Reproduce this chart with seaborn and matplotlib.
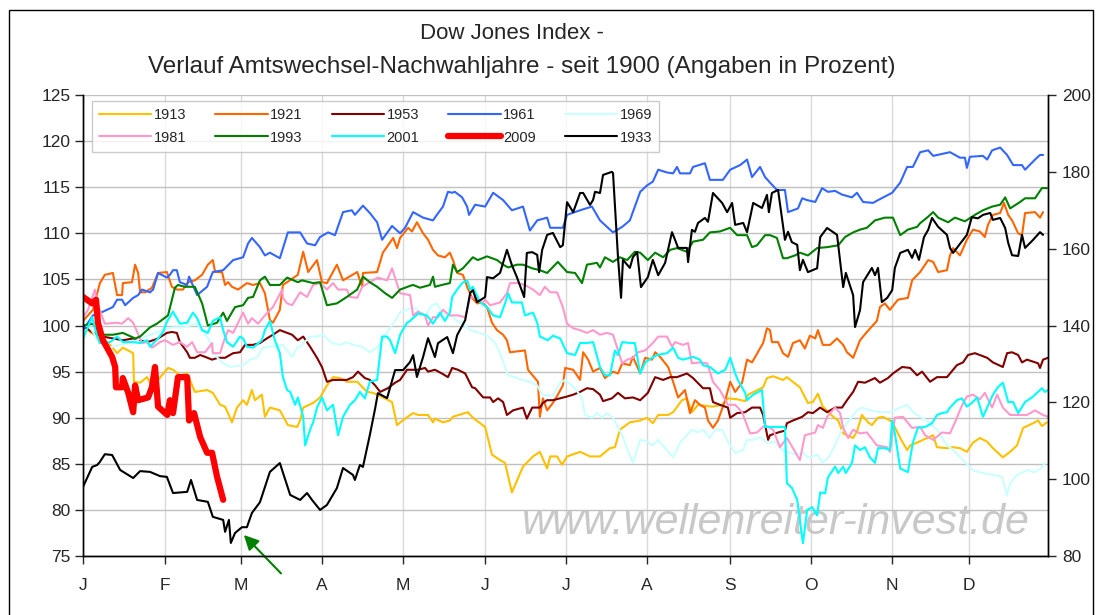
import matplotlib
matplotlib.use('Agg')
import matplotlib.pyplot as plt
import matplotlib.patches as mpatches
import seaborn as sns
import pandas as pd

# Dow Jones: Verlauf Amtswechsel-Nachwahljahre (Handelstage 0..252, Index in Prozent)
months = ['J', 'F', 'M', 'A', 'M', 'J', 'J', 'A', 'S', 'O', 'N', 'D']
month_starts = [0, 21.4, 41.3, 62.4, 83.6, 105.0, 126.1, 147.2, 168.9, 190.0, 211.2, 231.4]
year_len = 252

d1913 = [0, 1.8, 4.4, 7.1, 8.9, 10.4, 13.1, 13.3, 14.9, 16.7, 18.0, 19.6, 22.2, 23.5, 25.3, 27.2, 29.2, 32.4, 33.9, 35.8,
         37.1, 38.9, 40.2, 41.8, 42.8, 44.1, 44.9, 46.7, 47.5, 48.8, 51.4, 53.5, 55.9, 56.7, 57.5, 60.1, 61.9, 63.7, 65.3, 67.1,
         68.9, 71.6, 74.2, 75.7, 78.3, 80.7, 82.0, 84.1, 86.2, 87.5, 90.1, 91.4, 91.9, 94.0, 95.8, 96.6, 100.5, 101.8, 105.0, 106.8,
         108.9, 110.2, 112.0, 114.9, 117.5, 119.3, 121.2, 122.0, 123.8, 125.1, 126.4, 129.8, 132.4, 135.0, 137.6, 138.9, 140.2, 142.8, 145.5, 147.3,
         148.8, 150.2, 152.8, 154.1, 156.4, 157.7, 159.0, 160.6, 164.3, 166.9, 168.4, 170.8, 172.9, 173.7, 177.6, 178.6, 180.2, 182.8, 183.8, 187.2,
         189.3, 190.6, 191.9, 193.2, 195.9, 197.2, 198.5, 201.1, 202.1, 203.4, 205.0, 206.0, 207.6, 208.9, 210.7, 211.5, 213.4, 215.2, 216.0, 217.8,
         219.4, 222.0, 223.0, 225.6, 227.2, 229.0, 230.8, 232.4, 234.2, 236.1, 237.6, 240.2, 242.1, 243.9, 245.5, 248.1, 249.4, 250.4, 251.7]
v1913 = [100.0, 99.3, 98.6, 97.9, 97.0, 97.6, 97.0, 93.9, 93.8, 94.4, 93.5, 94.1, 95.4, 95.2, 94.6, 94.8, 92.8, 93.0, 92.7, 91.4,
         91.2, 89.5, 91.1, 91.9, 91.4, 93.0, 91.9, 92.5, 90.1, 91.1, 90.8, 89.2, 89.0, 89.7, 91.1, 91.6, 92.2, 93.5, 94.4, 94.3,
         93.9, 93.9, 92.8, 92.7, 92.2, 91.7, 89.2, 89.9, 90.5, 90.3, 90.3, 89.5, 89.9, 89.5, 89.7, 90.1, 90.6, 90.0, 89.0, 86.0,
         85.4, 85.1, 81.9, 84.7, 85.8, 86.3, 84.5, 85.8, 85.8, 84.9, 85.8, 86.3, 85.8, 85.8, 86.7, 86.8, 88.7, 89.5, 89.7, 90.0,
         89.4, 90.3, 90.3, 90.6, 91.9, 92.1, 90.6, 91.4, 91.2, 91.4, 92.1, 92.0, 91.8, 92.5, 93.3, 94.3, 94.5, 94.1, 94.4, 93.3,
         91.6, 91.7, 92.6, 91.2, 90.1, 89.7, 88.3, 87.8, 88.5, 90.3, 89.5, 89.2, 90.0, 90.1, 89.7, 89.4, 87.8, 86.5, 87.0, 87.3,
         87.6, 88.1, 86.8, 86.7, 86.8, 86.7, 86.3, 87.3, 87.8, 87.4, 86.7, 85.7, 86.3, 87.0, 88.9, 89.4, 89.7, 89.1, 89.5]

d1921 = [0, 2.6, 4.4, 5.7, 7.8, 8.9, 10.2, 10.4, 12.8, 13.6, 14.4, 14.9, 16.2, 18.0, 19.6, 21.9, 23.2, 24.5, 26.1, 27.4,
         29.2, 31.1, 32.6, 33.9, 34.5, 36.3, 37.1, 37.9, 38.9, 40.5, 42.8, 44.4, 46.2, 47.5, 48.8, 49.6, 51.4, 52.2, 53.3, 56.1,
         57.5, 58.8, 61.1, 62.4, 63.7, 66.3, 67.9, 71.6, 72.9, 73.1, 76.8, 78.3, 81.0, 82.0, 82.8, 84.9, 85.9, 87.2, 88.8, 90.1,
         91.4, 92.7, 94.5, 95.8, 96.6, 97.7, 99.2, 100.3, 101.6, 102.9, 104.2, 105.5, 106.8, 108.1, 109.7, 110.7, 111.5, 115.4, 116.2, 118.8,
         119.3, 120.1, 121.2, 122.7, 124.0, 125.3, 125.9, 128.0, 129.8, 130.6, 131.9, 133.2, 135.0, 136.3, 138.4, 139.7, 140.8, 142.8, 143.6, 145.5,
         146.8, 148.6, 149.4, 150.7, 152.8, 154.1, 155.4, 157.2, 158.5, 159.8, 161.1, 162.4, 163.2, 164.5, 165.8, 167.7, 169.0, 170.3, 172.1, 173.4,
         174.7, 177.6, 178.6, 179.4, 179.9, 181.5, 182.8, 184.1, 185.4, 187.2, 188.5, 189.8, 191.2, 191.9, 193.2, 195.1, 196.9, 198.5, 199.5, 201.1,
         202.9, 204.7, 207.3, 208.1, 209.4, 210.7, 212.8, 215.4, 216.5, 218.6, 220.7, 222.0, 223.3, 225.6, 226.4, 227.2, 229.0, 230.8, 232.4, 234.2,
         235.5, 236.3, 237.6, 239.5, 240.5, 241.6, 242.6, 244.2, 245.2, 246.0, 248.6, 249.9, 250.7]
v1921 = [100.5, 101.7, 104.6, 105.5, 105.7, 103.3, 103.3, 104.6, 104.7, 106.6, 105.7, 103.6, 103.6, 104.1, 105.7, 105.8, 104.2, 103.9, 103.9, 104.7,
         104.9, 105.5, 106.6, 107.1, 105.8, 105.8, 104.4, 104.7, 104.2, 103.9, 104.6, 104.4, 104.6, 103.5, 100.6, 100.3, 101.7, 104.4, 104.7, 105.5,
         108.0, 105.8, 107.1, 104.7, 104.6, 106.6, 104.9, 105.8, 104.2, 105.7, 105.8, 107.9, 109.5, 108.4, 109.5, 110.6, 110.2, 111.2, 110.0, 109.3,
         108.2, 107.6, 107.4, 107.9, 107.1, 105.7, 105.5, 104.2, 103.0, 102.4, 102.5, 102.0, 100.3, 99.5, 99.0, 98.4, 97.1, 97.3, 95.2, 93.9,
         90.1, 92.1, 90.8, 91.6, 92.5, 93.5, 95.4, 95.2, 94.1, 97.1, 96.3, 95.0, 95.4, 94.3, 95.0, 94.8, 95.9, 95.7, 96.6, 94.8,
         96.5, 96.3, 97.1, 96.6, 95.5, 93.9, 92.2, 93.0, 90.5, 91.9, 91.4, 91.1, 89.7, 88.9, 89.7, 91.9, 93.9, 92.8, 93.8, 96.3,
         96.0, 98.1, 99.7, 99.5, 98.2, 98.2, 97.0, 96.6, 98.1, 98.4, 97.5, 98.9, 98.6, 99.5, 97.9, 97.9, 98.6, 97.9, 97.1, 96.5,
         98.4, 99.3, 100.5, 102.0, 102.4, 101.7, 102.8, 103.0, 104.9, 105.8, 107.1, 106.9, 105.8, 106.0, 107.6, 108.4, 107.6, 109.3, 110.4, 110.2,
         109.6, 110.9, 112.0, 112.2, 113.3, 112.0, 111.4, 110.0, 109.8, 112.2, 112.3, 111.7, 112.3]

d1953 = [0, 2.6, 5.2, 7.8, 10.4, 13.1, 14.9, 16.7, 18.3, 19.6, 21.9, 23.2, 24.5, 25.3, 27.2, 27.9, 29.2, 30.6, 31.9, 33.7,
         35.3, 37.1, 39.2, 41.0, 42.3, 44.4, 46.2, 48.0, 49.6, 51.4, 52.7, 54.6, 56.1, 57.5, 59.3, 61.1, 62.4, 63.7, 65.3, 67.1,
         68.9, 70.5, 71.8, 73.6, 74.9, 76.3, 77.6, 79.6, 81.5, 82.8, 84.6, 87.5, 89.3, 90.1, 91.9, 93.7, 95.3, 96.4, 97.9, 99.8,
         101.6, 102.4, 104.5, 106.3, 107.1, 108.4, 109.7, 110.7, 112.3, 114.9, 115.9, 117.3, 119.3, 120.1, 121.2, 122.7, 124.6, 126.4, 128.0, 129.8,
         131.6, 133.2, 135.0, 135.8, 138.1, 139.7, 141.5, 143.6, 145.5, 147.5, 149.4, 151.5, 153.3, 155.1, 157.7, 159.3, 161.9, 163.7, 164.5, 166.3,
         168.4, 169.0, 170.8, 172.9, 174.7, 176.8, 177.6, 178.9, 179.4, 181.5, 183.3, 183.8, 185.4, 187.8, 189.3, 190.6, 192.5, 194.3, 196.4, 198.2,
         199.5, 201.1, 202.4, 204.2, 206.8, 208.1, 210.2, 211.5, 213.9, 216.0, 217.8, 219.1, 221.2, 223.0, 225.6, 228.2, 229.8, 231.1, 232.9, 236.1,
         237.6, 240.2, 241.3, 242.6, 244.2, 245.2, 246.5, 249.4, 249.9, 250.7, 252.0]
v1953 = [100.0, 99.2, 98.8, 98.6, 98.4, 98.6, 98.4, 98.2, 98.4, 98.6, 99.2, 99.3, 99.2, 98.2, 97.1, 96.5, 96.5, 96.8, 96.6, 96.3,
         96.5, 96.5, 97.0, 97.1, 97.9, 97.9, 98.1, 98.6, 99.0, 99.5, 99.3, 99.0, 98.4, 98.8, 97.7, 96.5, 95.5, 93.9, 94.1, 94.1,
         94.1, 94.4, 95.0, 94.3, 94.1, 93.5, 92.8, 93.2, 93.8, 94.1, 95.2, 95.2, 95.4, 95.0, 95.2, 94.8, 94.4, 95.4, 95.2, 94.8,
         93.3, 93.2, 92.2, 92.2, 91.7, 92.1, 91.7, 90.3, 90.8, 91.1, 89.9, 91.1, 91.1, 91.6, 91.9, 91.9, 92.1, 92.3, 92.5, 92.8,
         93.2, 93.1, 92.5, 91.8, 92.1, 92.7, 92.1, 92.2, 91.9, 92.7, 94.4, 94.1, 94.4, 94.4, 94.8, 94.3, 93.2, 93.2, 91.7, 91.4,
         91.1, 90.0, 90.5, 90.6, 91.1, 91.1, 90.3, 87.6, 88.1, 88.4, 88.6, 89.4, 89.7, 90.1, 90.6, 90.5, 91.1, 90.6, 91.1, 91.1,
         91.9, 92.8, 93.9, 93.8, 94.3, 93.8, 94.3, 94.8, 95.5, 95.4, 94.6, 95.0, 93.9, 94.4, 94.4, 95.7, 96.0, 96.8, 97.0, 96.5,
         96.0, 95.5, 97.0, 97.1, 96.8, 96.0, 96.3, 95.9, 95.4, 96.3, 96.5]

d1961 = [0, 2.6, 5.2, 7.8, 8.9, 10.2, 11.0, 13.1, 14.4, 15.4, 17.5, 18.3, 19.6, 21.9, 22.7, 23.5, 24.5, 25.3, 27.2, 27.7,
         29.8, 32.4, 33.9, 36.6, 39.2, 41.8, 43.1, 44.1, 46.2, 47.5, 48.8, 51.4, 53.5, 56.7, 58.5, 60.6, 61.9, 64.0, 65.8, 67.9,
         70.2, 71.0, 73.1, 74.9, 76.8, 78.1, 80.7, 82.8, 84.1, 86.2, 88.8, 91.4, 92.4, 94.0, 95.3, 96.4, 97.1, 99.0, 100.3, 100.8,
         102.4, 105.0, 107.1, 109.7, 112.0, 114.9, 116.7, 118.6, 121.2, 122.0, 125.3, 126.4, 129.8, 132.9, 135.0, 138.4, 140.8, 142.8, 145.5, 147.3,
         148.8, 150.2, 152.5, 154.1, 155.1, 155.9, 158.5, 159.3, 162.4, 163.7, 167.1, 169.0, 171.6, 173.4, 174.7, 176.8, 178.1, 179.4, 181.2, 183.3,
         184.1, 186.7, 187.8, 189.1, 191.2, 193.0, 194.5, 196.4, 198.2, 200.8, 202.1, 203.7, 206.3, 207.6, 211.3, 213.4, 215.2, 216.7, 218.6, 220.7,
         222.0, 226.4, 229.0, 230.3, 230.8, 231.6, 235.0, 236.1, 237.4, 239.5, 241.3, 242.9, 245.2, 246.0, 248.6, 249.9, 250.7]
v1961 = [99.5, 101.1, 101.5, 102.0, 102.8, 102.8, 102.2, 103.0, 103.3, 103.9, 103.6, 103.9, 105.7, 105.2, 105.5, 106.0, 106.0, 104.7, 104.4, 105.3,
         103.3, 104.2, 105.8, 106.0, 107.1, 107.4, 108.9, 109.5, 108.5, 107.6, 107.9, 107.3, 110.1, 110.1, 108.9, 108.7, 109.6, 110.1, 109.8, 112.3,
         112.5, 112.0, 113.0, 112.2, 111.2, 109.3, 110.8, 110.0, 110.6, 112.3, 111.7, 111.4, 112.0, 112.9, 114.5, 114.4, 114.5, 113.9, 112.9, 112.0,
         113.1, 112.9, 114.4, 113.6, 112.5, 112.9, 110.3, 111.4, 111.7, 110.6, 110.6, 112.0, 112.5, 112.9, 111.4, 110.1, 110.7, 111.4, 114.5, 115.2,
         115.6, 116.9, 116.6, 116.5, 117.2, 116.5, 116.5, 117.2, 117.6, 115.8, 115.8, 116.9, 117.4, 118.0, 116.1, 117.2, 116.1, 115.5, 114.7, 114.7,
         112.3, 112.7, 113.8, 113.6, 113.4, 114.9, 114.5, 114.6, 114.2, 113.9, 114.4, 113.4, 113.3, 113.6, 114.4, 115.5, 117.2, 117.2, 118.8, 119.0,
         118.4, 118.8, 118.2, 118.2, 117.1, 118.3, 118.4, 118.0, 119.0, 119.3, 118.5, 117.4, 117.4, 116.9, 118.0, 118.5, 118.5]

d1969 = [0, 1.8, 4.4, 6.3, 7.8, 14.1, 17.5, 20.9, 23.5, 26.1, 29.8, 32.4, 33.2, 33.9, 36.6, 38.4, 41.8, 43.6, 45.4, 47.0,
         48.8, 52.2, 54.6, 55.9, 56.7, 59.3, 61.1, 62.7, 65.0, 67.1, 68.9, 70.5, 72.9, 74.9, 76.8, 78.3, 80.7, 82.8, 86.2, 89.3,
         91.1, 92.4, 93.7, 95.8, 97.7, 99.2, 101.1, 103.7, 105.8, 107.6, 108.9, 111.0, 112.8, 114.6, 116.7, 118.6, 119.9, 121.4, 122.7, 124.6,
         125.9, 127.7, 129.0, 130.3, 131.1, 132.9, 134.2, 135.5, 136.8, 138.4, 140.8, 142.3, 143.6, 145.5, 147.3, 148.8, 150.2, 152.0, 154.1, 155.9,
         157.7, 159.0, 160.6, 161.9, 163.7, 165.0, 166.9, 168.4, 170.3, 172.4, 173.4, 175.0, 176.8, 178.6, 180.7, 182.5, 183.8, 186.5, 188.0, 189.3,
         191.9, 193.0, 194.5, 196.4, 197.7, 199.5, 202.1, 203.4, 205.5, 208.1, 210.7, 213.4, 215.2, 216.7, 218.6, 220.4, 223.0, 225.6, 227.2, 229.8,
         232.4, 235.0, 237.6, 240.0, 241.3, 242.1, 243.9, 246.5, 248.6, 250.4, 251.2]
v1969 = [100.2, 99.8, 98.1, 97.6, 97.7, 98.4, 99.0, 99.5, 99.8, 99.8, 100.2, 98.8, 98.1, 97.0, 95.9, 95.5, 95.7, 96.3, 96.5, 97.6,
         97.7, 97.9, 96.6, 97.6, 97.7, 98.8, 98.8, 99.0, 98.1, 97.9, 98.2, 97.9, 97.7, 97.1, 97.6, 98.6, 100.0, 101.4, 102.0, 101.1,
         102.2, 102.4, 101.4, 101.1, 100.5, 100.2, 99.5, 99.2, 98.8, 98.1, 97.0, 94.6, 94.4, 94.1, 93.9, 93.5, 92.5, 92.4, 92.4, 93.8,
         94.1, 93.5, 92.9, 92.1, 90.3, 90.0, 90.5, 90.0, 90.5, 90.0, 88.1, 86.4, 85.1, 87.6, 87.4, 87.0, 87.6, 86.7, 85.7, 87.3,
         88.1, 88.7, 88.4, 88.7, 87.8, 88.7, 88.7, 87.4, 86.2, 86.5, 87.6, 87.6, 87.9, 87.3, 87.4, 86.5, 86.3, 86.0, 86.2, 85.7,
         86.0, 85.1, 85.6, 87.0, 88.3, 89.4, 90.8, 91.1, 90.8, 90.6, 90.6, 91.1, 91.4, 90.6, 90.1, 89.7, 88.7, 87.0, 86.5, 85.4,
         84.3, 84.0, 83.8, 83.6, 81.6, 82.9, 83.8, 84.3, 84.1, 84.6, 85.1]

d1981 = [0, 1.3, 3.1, 3.7, 5.7, 8.9, 10.2, 11.8, 13.1, 15.4, 16.7, 18.0, 20.1, 21.4, 23.5, 25.3, 27.2, 28.5, 29.8, 31.9,
         33.7, 33.9, 35.8, 36.6, 37.9, 39.2, 40.5, 41.8, 43.1, 44.1, 45.7, 47.5, 49.6, 52.0, 52.2, 53.3, 54.6, 56.7, 58.5, 60.1,
         61.9, 63.7, 65.3, 66.6, 68.9, 69.7, 71.6, 72.9, 74.9, 77.0, 79.4, 80.7, 82.8, 85.4, 86.2, 87.5, 89.3, 90.1, 91.4, 92.7,
         94.0, 95.8, 97.9, 99.8, 101.1, 102.4, 104.2, 105.0, 106.3, 108.9, 110.7, 111.5, 113.6, 115.4, 117.5, 119.3, 120.6, 122.0, 123.8, 125.3,
         126.4, 128.0, 129.8, 131.6, 133.2, 135.0, 136.8, 138.4, 139.4, 140.8, 142.1, 143.6, 144.9, 146.8, 148.8, 150.2, 152.5, 153.8, 154.6, 156.7,
         158.0, 159.0, 161.1, 163.0, 164.5, 166.3, 168.4, 170.3, 172.1, 174.2, 176.0, 178.1, 180.2, 182.0, 183.8, 185.4, 187.2, 188.5, 191.2, 191.9,
         193.2, 194.3, 196.4, 197.7, 198.5, 199.8, 201.1, 202.9, 204.7, 207.3, 210.0, 210.7, 212.0, 214.1, 216.5, 218.6, 219.9, 222.0, 224.3, 226.4,
         227.7, 229.5, 230.8, 232.4, 234.2, 235.5, 237.4, 238.7, 240.2, 242.1, 244.2, 246.5, 248.6, 250.7, 252.0]
v1981 = [100.9, 101.7, 103.9, 102.4, 100.2, 100.3, 100.2, 100.8, 100.3, 98.1, 98.2, 97.6, 98.2, 98.4, 97.9, 98.2, 97.7, 98.2, 97.1, 97.1,
         98.1, 97.0, 97.0, 98.1, 99.5, 99.2, 100.3, 101.4, 100.2, 100.8, 100.2, 101.1, 102.0, 103.9, 103.0, 102.4, 102.2, 103.6, 103.1, 104.4,
         104.6, 103.9, 104.6, 103.9, 103.9, 103.1, 103.0, 104.2, 104.7, 105.2, 104.9, 106.2, 103.5, 103.3, 101.1, 101.5, 101.1, 100.0, 100.9, 100.9,
         101.7, 101.1, 101.1, 100.9, 103.1, 103.0, 102.4, 102.8, 102.2, 102.5, 103.5, 104.6, 104.6, 104.4, 103.9, 103.3, 104.2, 103.6, 103.6, 102.0,
         100.2, 99.7, 99.5, 99.2, 99.5, 99.0, 99.2, 99.0, 97.7, 95.9, 96.3, 96.5, 97.1, 97.3, 98.1, 98.8, 98.8, 97.7, 98.2, 97.9,
         98.1, 95.9, 96.0, 95.9, 93.9, 93.0, 91.4, 91.4, 90.6, 88.3, 88.4, 89.2, 88.7, 86.8, 87.8, 86.7, 85.4, 88.1, 88.4, 89.2,
         88.9, 90.1, 91.1, 90.5, 88.9, 87.8, 88.7, 88.3, 88.4, 87.0, 86.8, 86.3, 90.0, 90.1, 88.9, 89.0, 88.1, 87.6, 88.4, 88.3,
         89.5, 91.3, 92.3, 92.5, 92.0, 92.7, 91.1, 92.5, 91.1, 90.3, 90.3, 90.3, 90.8, 90.3, 90.1]

d1993 = [0, 2.6, 4.4, 7.8, 10.4, 13.6, 14.9, 17.5, 19.3, 22.2, 24.0, 24.8, 26.6, 29.2, 31.1, 32.6, 35.0, 36.6, 37.6, 39.7,
         41.8, 43.1, 44.4, 46.2, 47.5, 48.8, 51.4, 53.3, 56.1, 57.2, 60.1, 61.9, 63.7, 66.3, 68.9, 71.6, 73.1, 74.9, 76.8, 78.9,
         80.7, 82.8, 85.4, 86.2, 88.0, 90.6, 91.4, 91.9, 93.7, 95.8, 96.6, 97.7, 99.2, 100.5, 101.8, 103.1, 105.5, 108.1, 109.7, 111.0,
         113.3, 114.9, 117.3, 119.3, 121.2, 123.3, 124.0, 126.4, 128.5, 130.3, 131.6, 134.2, 135.0, 136.3, 138.4, 140.2, 142.1, 144.1, 145.5, 147.5,
         149.4, 151.5, 153.3, 155.1, 157.7, 159.3, 161.9, 163.7, 166.3, 169.0, 170.8, 173.4, 174.7, 176.0, 178.1, 179.4, 181.2, 182.8, 183.8, 185.9,
         187.2, 189.3, 191.7, 194.3, 197.2, 199.0, 201.1, 202.9, 204.7, 206.8, 209.4, 211.5, 213.4, 215.4, 217.8, 218.6, 220.4, 222.0, 223.3, 225.9,
         227.7, 230.3, 232.9, 235.0, 237.4, 239.5, 240.8, 242.1, 244.7, 246.0, 248.6, 250.4, 251.7]
v1993 = [100.0, 100.2, 99.0, 99.0, 99.2, 98.6, 98.8, 99.8, 100.2, 101.1, 104.1, 104.4, 104.2, 104.2, 102.4, 100.0, 100.3, 101.4, 100.5, 102.0,
         102.2, 103.0, 103.1, 104.9, 105.3, 104.4, 104.4, 105.2, 104.7, 104.9, 104.6, 104.7, 102.2, 102.4, 103.1, 103.9, 105.3, 104.7, 104.2, 103.5,
         103.0, 103.9, 104.3, 104.4, 104.1, 104.4, 105.3, 104.2, 104.4, 104.6, 106.6, 105.8, 106.2, 106.8, 107.4, 107.1, 107.5, 107.1, 106.6, 106.3,
         106.6, 106.6, 106.2, 106.0, 105.7, 106.6, 106.9, 105.8, 105.7, 104.6, 106.6, 106.8, 106.3, 107.4, 106.9, 107.4, 107.1, 108.0, 107.9, 107.1,
         107.9, 107.4, 108.2, 108.4, 108.0, 109.1, 109.3, 110.1, 110.2, 110.6, 109.8, 109.8, 108.5, 108.7, 109.8, 109.8, 109.5, 107.3, 107.3, 107.6,
         107.9, 107.6, 108.4, 108.5, 108.7, 109.6, 110.1, 110.4, 110.6, 111.4, 111.7, 111.7, 109.8, 110.4, 110.7, 111.1, 111.7, 112.3, 111.7, 111.2,
         111.7, 111.3, 112.0, 112.5, 112.9, 113.1, 113.9, 112.7, 113.4, 113.8, 113.8, 114.9, 114.9]

d2001 = [0, 2.4, 3.7, 4.4, 7.1, 8.9, 10.4, 13.1, 14.9, 16.7, 17.5, 19.6, 20.9, 21.9, 23.5, 25.3, 27.2, 28.7, 29.8, 31.1,
         32.6, 33.9, 35.8, 36.6, 37.6, 39.2, 41.0, 41.8, 42.8, 44.4, 46.7, 47.5, 48.8, 50.1, 51.4, 52.2, 53.3, 54.1, 55.4, 56.1,
         57.5, 58.0, 59.3, 60.1, 61.1, 62.4, 63.7, 65.3, 66.6, 67.9, 69.7, 71.0, 72.3, 73.6, 74.9, 76.8, 78.1, 79.4, 80.2, 81.5,
         82.8, 84.6, 85.4, 87.5, 89.8, 91.4, 93.2, 94.5, 95.8, 96.4, 97.7, 99.0, 100.3, 101.1, 101.8, 103.7, 105.5, 107.1, 108.9, 110.2,
         111.0, 112.0, 114.6, 115.4, 117.5, 118.6, 119.3, 121.4, 122.7, 124.6, 126.4, 128.5, 129.8, 131.6, 133.2, 135.0, 136.3, 137.6, 138.9, 139.7,
         140.8, 142.8, 144.1, 145.5, 146.8, 148.6, 149.9, 152.5, 154.1, 155.4, 156.7, 158.5, 159.3, 161.1, 161.9, 163.7, 165.8, 167.7, 169.0, 170.3,
         171.0, 172.9, 173.4, 175.0, 177.3, 178.1, 183.3, 183.8, 185.1, 186.5, 188.0, 189.1, 190.4, 191.7, 192.5, 193.8, 194.5, 196.4, 197.2, 198.5,
         199.2, 200.8, 201.6, 202.9, 204.2, 205.5, 206.8, 207.6, 209.4, 210.7, 211.3, 212.0, 213.4, 215.4, 216.7, 218.0, 219.9, 221.7, 223.0, 224.3,
         225.6, 226.4, 228.2, 229.5, 230.8, 232.1, 233.5, 235.0, 236.1, 237.6, 238.9, 240.2, 241.6, 242.9, 244.2, 246.0, 247.8, 249.4, 250.4, 251.2, 252.0]
v2001 = [98.6, 100.9, 98.8, 98.1, 98.2, 98.8, 98.2, 98.2, 98.1, 98.4, 97.7, 98.6, 99.3, 100.4, 101.5, 100.2, 100.3, 101.4, 100.8, 99.5,
         99.2, 100.5, 100.9, 99.5, 98.2, 97.7, 98.8, 98.6, 97.7, 97.6, 98.4, 99.5, 100.5, 98.4, 97.0, 94.4, 93.0, 92.8, 91.4, 92.2,
         90.1, 87.0, 88.7, 89.5, 91.1, 92.2, 90.8, 91.4, 88.1, 90.1, 91.4, 91.9, 92.8, 92.1, 93.9, 94.1, 98.8, 98.8, 98.4, 97.0,
         99.0, 100.3, 100.5, 101.3, 101.1, 100.2, 101.4, 100.5, 101.4, 103.1, 103.9, 104.6, 104.9, 103.9, 104.2, 102.5, 102.0, 101.1, 100.9, 102.4,
         103.5, 102.5, 102.5, 101.1, 101.4, 100.3, 98.8, 98.4, 98.9, 98.6, 97.0, 96.8, 98.1, 98.1, 98.2, 95.5, 94.6, 94.6, 97.3, 96.8,
         98.2, 98.1, 98.1, 94.8, 96.0, 96.5, 96.8, 97.0, 97.6, 96.5, 96.3, 96.5, 96.6, 96.3, 95.7, 95.5, 94.8, 95.2, 96.5, 94.8,
         94.1, 92.7, 91.9, 92.5, 93.0, 89.0, 89.0, 82.9, 82.4, 81.1, 76.4, 80.0, 80.3, 79.4, 81.9, 81.8, 83.5, 84.7, 84.0, 84.7,
         84.0, 85.1, 87.0, 86.5, 86.8, 85.7, 85.1, 86.7, 86.7, 86.5, 89.7, 88.3, 84.5, 84.1, 87.3, 88.9, 89.0, 89.4, 90.3, 90.5,
         90.6, 91.1, 91.9, 92.1, 91.2, 91.6, 92.2, 90.1, 91.1, 92.5, 93.3, 93.8, 91.7, 91.7, 90.5, 91.7, 92.2, 92.8, 93.2, 92.8, 93.0]

d2009 = [0, 2.4, 3.4, 3.9, 5.2, 7.6, 8.4, 8.6, 10.2, 10.4, 11.8, 13.1, 13.6, 14.4, 17.0, 18.0, 18.8, 19.6, 22.0, 22.7,
         23.5, 24.8, 27.2, 27.7, 29.0, 30.6, 32.4, 33.7, 35.0, 36.6]
v2009 = [103.1, 102.4, 102.8, 100.3, 98.4, 96.6, 95.5, 93.3, 93.3, 94.3, 92.7, 90.6, 93.5, 91.9, 92.2, 93.3, 95.5, 91.2, 90.3, 91.9,
         90.5, 94.4, 94.4, 89.7, 90.5, 87.9, 86.2, 86.2, 83.6, 81.1]

# 1933 laeuft auf der rechten Achse
d1933 = [0, 2.4, 3.7, 4.4, 5.7, 7.6, 9.7, 13.1, 14.9, 17.5, 20.1, 21.9, 23.5, 27.2, 28.2, 29.8, 32.6, 33.9, 36.6, 37.1,
         38.1, 38.6, 39.7, 41.5, 42.8, 44.1, 46.2, 48.8, 51.4, 54.1, 56.7, 58.5, 59.8, 61.9, 63.7, 66.3, 67.9, 70.5, 71.0, 72.3,
         73.1, 74.9, 76.3, 77.0, 79.4, 81.5, 83.6, 85.4, 86.2, 87.2, 88.8, 90.1, 91.9, 92.7, 95.1, 96.6, 97.7, 99.8, 101.1, 101.8,
         102.9, 105.0, 105.5, 107.1, 108.9, 110.7, 112.0, 113.3, 115.2, 115.9, 117.3, 118.6, 119.1, 119.9, 121.2, 122.7, 124.6, 125.3, 126.4, 128.0,
         129.8, 130.6, 132.4, 133.2, 133.7, 135.0, 135.8, 138.1, 138.4, 139.7, 140.5, 141.0, 142.8, 143.6, 144.7, 145.7, 147.5, 148.8, 150.2, 152.0,
         153.8, 154.6, 155.4, 157.7, 158.0, 159.0, 159.8, 160.6, 162.4, 163.2, 164.5, 166.9, 168.2, 169.5, 170.3, 172.4, 173.4, 175.0, 177.3, 178.6,
         179.1, 179.9, 181.5, 183.3, 184.1, 185.1, 186.5, 187.2, 188.0, 189.3, 191.7, 192.5, 194.3, 196.9, 198.5, 199.2, 201.1, 201.6, 202.9, 203.7,
         206.0, 206.8, 207.6, 208.6, 210.0, 211.3, 212.0, 213.4, 215.4, 216.5, 217.3, 218.3, 219.6, 220.7, 221.7, 223.3, 225.6, 226.4, 227.2, 230.8,
         232.1, 233.7, 235.0, 236.9, 237.6, 239.5, 240.8, 241.6, 242.6, 244.2, 245.2, 246.0, 248.1, 249.9, 250.7]
v1933 = [98.0, 103.2, 103.7, 104.5, 106.5, 106.3, 102.4, 100.3, 102.1, 101.9, 100.8, 100.6, 96.4, 96.7, 99.8, 94.6, 94.1, 90.2, 89.4, 86.3,
         89.4, 83.4, 86.0, 87.5, 87.5, 91.2, 94.0, 101.9, 104.2, 95.9, 94.6, 96.4, 94.6, 92.0, 93.3, 97.7, 102.9, 101.1, 99.8, 103.7,
         103.2, 111.5, 118.5, 122.4, 121.1, 128.4, 128.4, 130.5, 132.3, 126.6, 131.8, 136.7, 131.8, 135.4, 137.0, 132.8, 137.5, 141.4, 148.5, 149.2,
         146.1, 147.4, 152.6, 152.3, 153.7, 159.7, 155.7, 152.6, 147.4, 158.9, 159.1, 158.4, 153.9, 159.7, 163.6, 164.1, 160.4, 160.9, 172.1, 169.5,
         174.5, 174.5, 171.4, 172.7, 174.8, 174.5, 179.2, 180.0, 179.7, 157.8, 147.2, 157.1, 155.0, 157.8, 159.1, 150.0, 152.6, 157.1, 153.1, 156.3,
         164.3, 162.3, 160.2, 160.2, 156.5, 164.9, 164.4, 166.7, 168.0, 167.0, 174.5, 171.9, 169.5, 171.9, 166.2, 166.7, 164.3, 171.9, 170.6, 174.0,
         169.5, 174.5, 175.3, 162.3, 164.4, 161.7, 161.0, 154.4, 157.1, 153.9, 154.9, 163.0, 165.4, 163.6, 150.0, 153.7, 147.9, 139.6, 144.0, 151.3,
         155.0, 153.1, 155.0, 146.1, 147.2, 149.2, 155.0, 158.9, 159.7, 157.6, 159.7, 157.1, 163.0, 164.9, 168.0, 165.7, 163.6, 160.2, 158.9, 163.6,
         168.2, 167.9, 168.8, 169.3, 167.5, 168.0, 165.4, 161.5, 158.3, 158.1, 163.6, 160.2, 162.3, 164.3, 163.6]

years_left = ['1913', '1921', '1953', '1961', '1969', '1981', '1993', '2001', '2009']
colors = {'1913': '#FFC000', '1921': '#FF6600', '1953': '#800000', '1961': '#3366FF', '1969': '#CCFFFF',
          '1981': '#FF99CC', '1993': '#008000', '2001': '#00FFFF', '2009': '#FF0000', '1933': '#000000'}
series = {'1913': (d1913, v1913), '1921': (d1921, v1921), '1953': (d1953, v1953), '1961': (d1961, v1961),
          '1969': (d1969, v1969), '1981': (d1981, v1981), '1993': (d1993, v1993), '2001': (d2001, v2001),
          '2009': (d2009, v2009)}

sns.set_style('white')
plt.rcParams['font.family'] = ['Liberation Sans', 'DejaVu Sans']

fig = plt.figure(figsize=(10.98, 6.15), dpi=100)
ax = fig.add_axes([0.0756, 0.0959, 0.8789, 0.7496])
ax2 = ax.twinx()

for yr in years_left:
    d, v = series[yr]
    df = pd.DataFrame({'tag': d, 'wert': v})
    sns.lineplot(data=df, x='tag', y='wert', ax=ax, color=colors[yr], estimator=None, sort=False,
                 lw=4.5 if yr == '2009' else 1.5, label=yr, legend=False, zorder=5 if yr == '2009' else 2)

df33 = pd.DataFrame({'tag': d1933, 'wert': v1933})
sns.lineplot(data=df33, x='tag', y='wert', ax=ax2, color=colors['1933'], estimator=None, sort=False,
             lw=1.5, label='1933', legend=False)

# Achsen
ax.set_xlim(0, year_len)
ax.set_ylim(75, 125)
ax.set_yticks(range(75, 126, 5))
ax2.set_ylim(80, 200)
ax2.set_yticks(range(80, 201, 20))
ax.set_xticks(month_starts)
ax.set_xticklabels(months)
ax.set_xlabel('')
ax.set_ylabel('')
ax2.set_ylabel('')

ax.yaxis.grid(True, color='#c0c0c0', lw=1)
ax.xaxis.grid(True, color='#d9d9d9', lw=1)
ax.set_axisbelow(True)

for a in (ax, ax2):
    a.spines['top'].set_visible(False)
    for s in ('left', 'right', 'bottom'):
        a.spines[s].set_color('#000000')
        a.spines[s].set_linewidth(1)
ax.tick_params(axis='y', direction='out', length=6, width=1, labelsize=12.5, pad=3, left=True)
ax.tick_params(axis='x', direction='out', length=6, width=1, labelsize=12.5, pad=10, bottom=True)
ax2.tick_params(axis='y', direction='out', length=6, width=1, labelsize=12.5, pad=4, right=True)

# Legende (Zeile 1: 1913..1969, Zeile 2: 1981..1933)
order = ['1913', '1981', '1921', '1993', '1953', '2001', '1961', '2009', '1969', '1933']
handles = {l.get_label(): l for l in ax.get_lines() + ax2.get_lines()}
leg = ax2.legend([handles[k] for k in order], order, ncol=5, loc='upper left',
                 bbox_to_anchor=(0.009, 0.988), frameon=True, fancybox=False, fontsize=10.5,
                 handlelength=3.6, handletextpad=0.15, columnspacing=2.0, borderpad=0.5,
                 labelspacing=0.6, borderaxespad=0)
leg.get_frame().set_edgecolor('#c0c0c0')
leg.get_frame().set_linewidth(1)

# Wasserzeichen
ax.text(0.718, 0.072, 'www.wellenreiter-invest.de', transform=ax.transAxes, ha='center', va='center',
        fontsize=31, style='italic', color='#c8c8c8', zorder=1)

# Pfeil auf das Tief von 1933
ax.annotate('', xy=(41.5, 77.5), xytext=(52.2, 72.9),
            arrowprops=dict(arrowstyle='-|>', color='#008000', lw=1.5, mutation_scale=22),
            annotation_clip=False)

fig.text(0.466, 0.946, 'Dow Jones Index -', ha='center', va='center', fontsize=16)
fig.text(0.475, 0.891, 'Verlauf Amtswechsel-Nachwahljahre - seit 1900 (Angaben in Prozent)',
         ha='center', va='center', fontsize=17.5)

fig.patches.append(mpatches.Rectangle((0.008, -0.05), 0.987, 1.034, transform=fig.transFigure,
                                      fill=False, edgecolor='black', lw=1))

fig.savefig('out.png', dpi=100)
